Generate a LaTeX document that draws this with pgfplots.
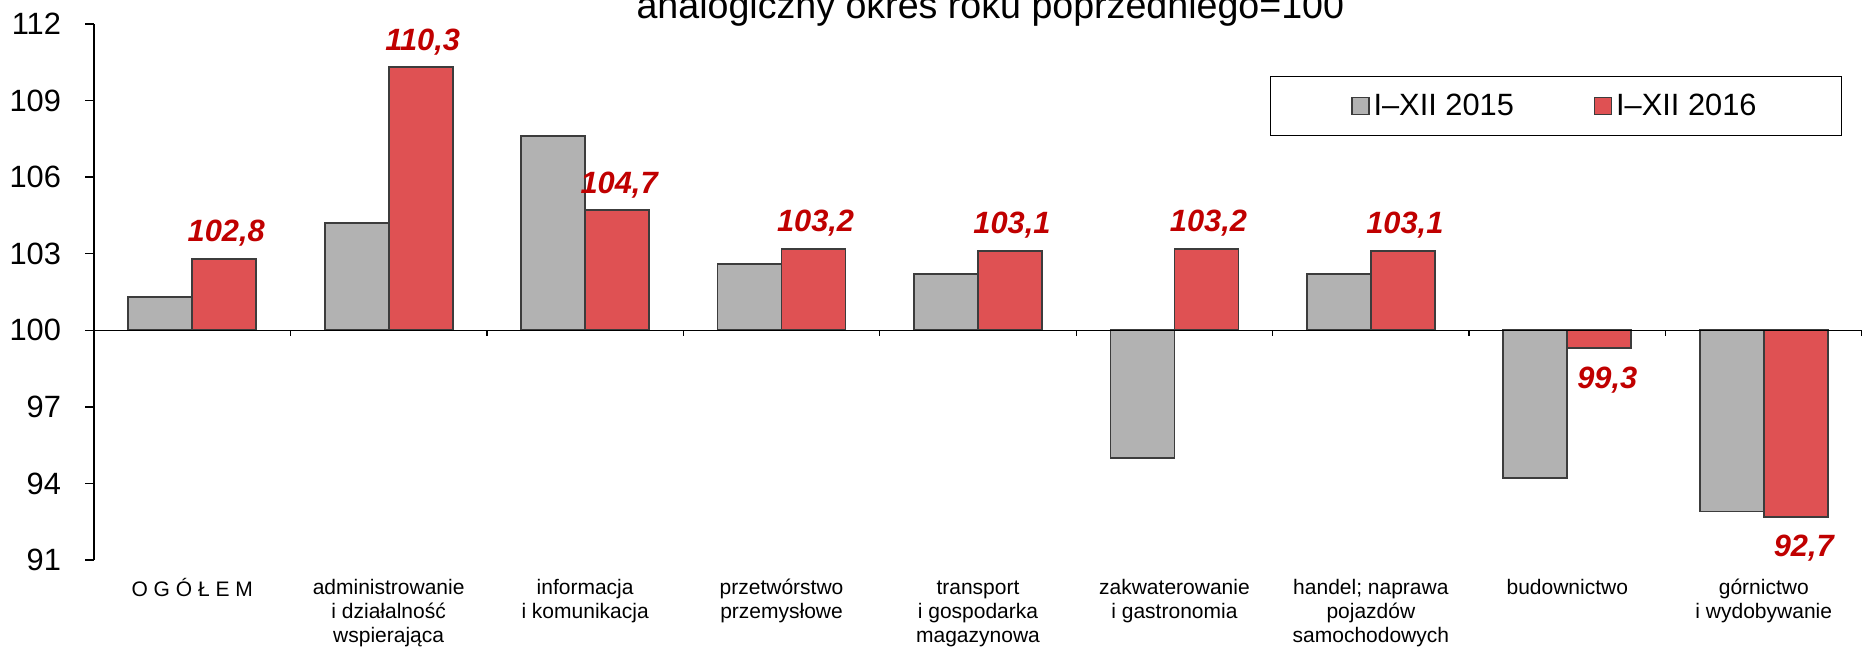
\documentclass[border=0pt]{standalone}
\usepackage{pgfplots}
\pgfplotsset{compat=1.18}
\usepackage{pgfplotstable}
\usepackage{fontspec}
\setmainfont{Liberation Sans}
\definecolor{grayfill}{RGB}{178,178,178}
\definecolor{redfill}{RGB}{223,81,83}
\definecolor{labred}{RGB}{192,0,0}
\definecolor{edge}{RGB}{60,60,60}

\pgfplotstableread{
x y15 y16
0 101.3 102.8
1 104.2 110.3
2 107.6 104.7
3 102.6 103.2
4 102.2 103.1
5 95.0 103.2
6 102.2 103.1
7 94.2 99.3
8 92.9 92.7
}\data

\begin{document}
\begin{tikzpicture}
\path[use as bounding box] (0pt,0pt) rectangle (931pt,323.5pt);
\clip (0pt,0pt) rectangle (931pt,323.5pt);
\begin{axis}[
  at={(47pt,43.5pt)}, anchor=south west,
  width=884pt, height=268pt, scale only axis,
  xmin=-0.5, xmax=8.5, ymin=-9, ymax=12,
  enlarge x limits=false,
  y filter/.expression={y-100},
  ybar, bar width=32pt,
  ytick={-9,-6,...,12},
  yticklabels={91,94,97,100,103,106,109,112},
  xtick={0,...,8},
  xticklabels={
    {\strut O G Ó Ł E M},
    {\strut administrowanie\\i działalność\\wspierająca},
    {\strut informacja\\i komunikacja},
    {\strut przetwórstwo\\przemysłowe},
    {\strut transport\\i gospodarka\\magazynowa},
    {\strut zakwaterowanie\\i gastronomia},
    {\strut handel; naprawa\\pojazdów\\samochodowych},
    {\strut budownictwo},
    {\strut górnictwo\\i wydobywanie}},
  axis y line*=left, axis x line*=bottom,
  x axis line style={draw=none},
  y axis line style={line width=0.7pt},
  tick align=outside,
  major tick length=4.5pt,
  ytick style={line width=0.7pt, black},
  xtick style={draw=none},
  yticklabel style={font=\fontsize{15.4}{18}\selectfont, xshift=-8.5pt},
  xticklabel style={font=\fontsize{10.5}{11.9}\selectfont, align=center, yshift=-0.9pt},
  /pgf/number format/assume math mode=true,
  title={analogiczny okres roku poprzedniego=100},
  title style={at={(0.507,1)}, anchor=base, yshift=-3.5pt, font=\fontsize{18.8}{22}\selectfont},
  legend columns=2,
  legend image code/.code={\draw[#1, line width=0.6pt] (0pt,-4.25pt) rectangle (8.5pt,4.25pt);},
  legend style={at={(0.9888,0.903)}, anchor=north east, draw=black, line width=0.6pt,
    font=\fontsize{15.4}{18}\selectfont, inner xsep=40.5pt, inner ysep=6.7pt,
    nodes={inner sep=2pt},
    /tikz/every even column/.append style={column sep=38pt}},
  clip=false,
  lab/.style={sharp plot, draw=none, mark=none, forget plot,
    point meta=explicit,
    nodes near coords={\pgfmathprintnumber[fixed,fixed zerofill,precision=1,use comma]{\pgfplotspointmeta}},
    every node near coord/.append style={font=\fontsize{15.4}{18}\selectfont\bfseries\itshape, text=labred}},
]
\addplot[bar shift=-16pt, fill=grayfill, draw=edge, line width=0.9pt] table[x=x, y=y15] {\data};
\addlegendentry{I–XII 2015}
\addplot[bar shift=16pt, fill=redfill, draw=edge, line width=0.9pt] table[x=x, y=y16] {\data};
\addlegendentry{I–XII 2016}
\addplot[lab, skip coords between index={7}{9},
  every node near coord/.append style={anchor=south, inner ysep=6pt}]
  table[x=x, y=y16, meta=y16] {\data};
\addplot[lab, skip coords between index={0}{7},
  every node near coord/.append style={anchor=north, inner ysep=9pt, xshift=3pt}]
  table[x=x, y=y16, meta=y16] {\data};
\draw[line width=0.7pt] (rel axis cs:0,0.428571) -- (rel axis cs:1,0.428571);
\pgfplotsinvokeforeach{0.111111,0.222222,0.333333,0.444444,0.555556,0.666667,0.777778,0.888889,1}{
  \draw[line width=0.7pt] (rel axis cs:#1,0.428571) -- ++(0pt,-3pt);
}
\end{axis}
\end{tikzpicture}
\end{document}
